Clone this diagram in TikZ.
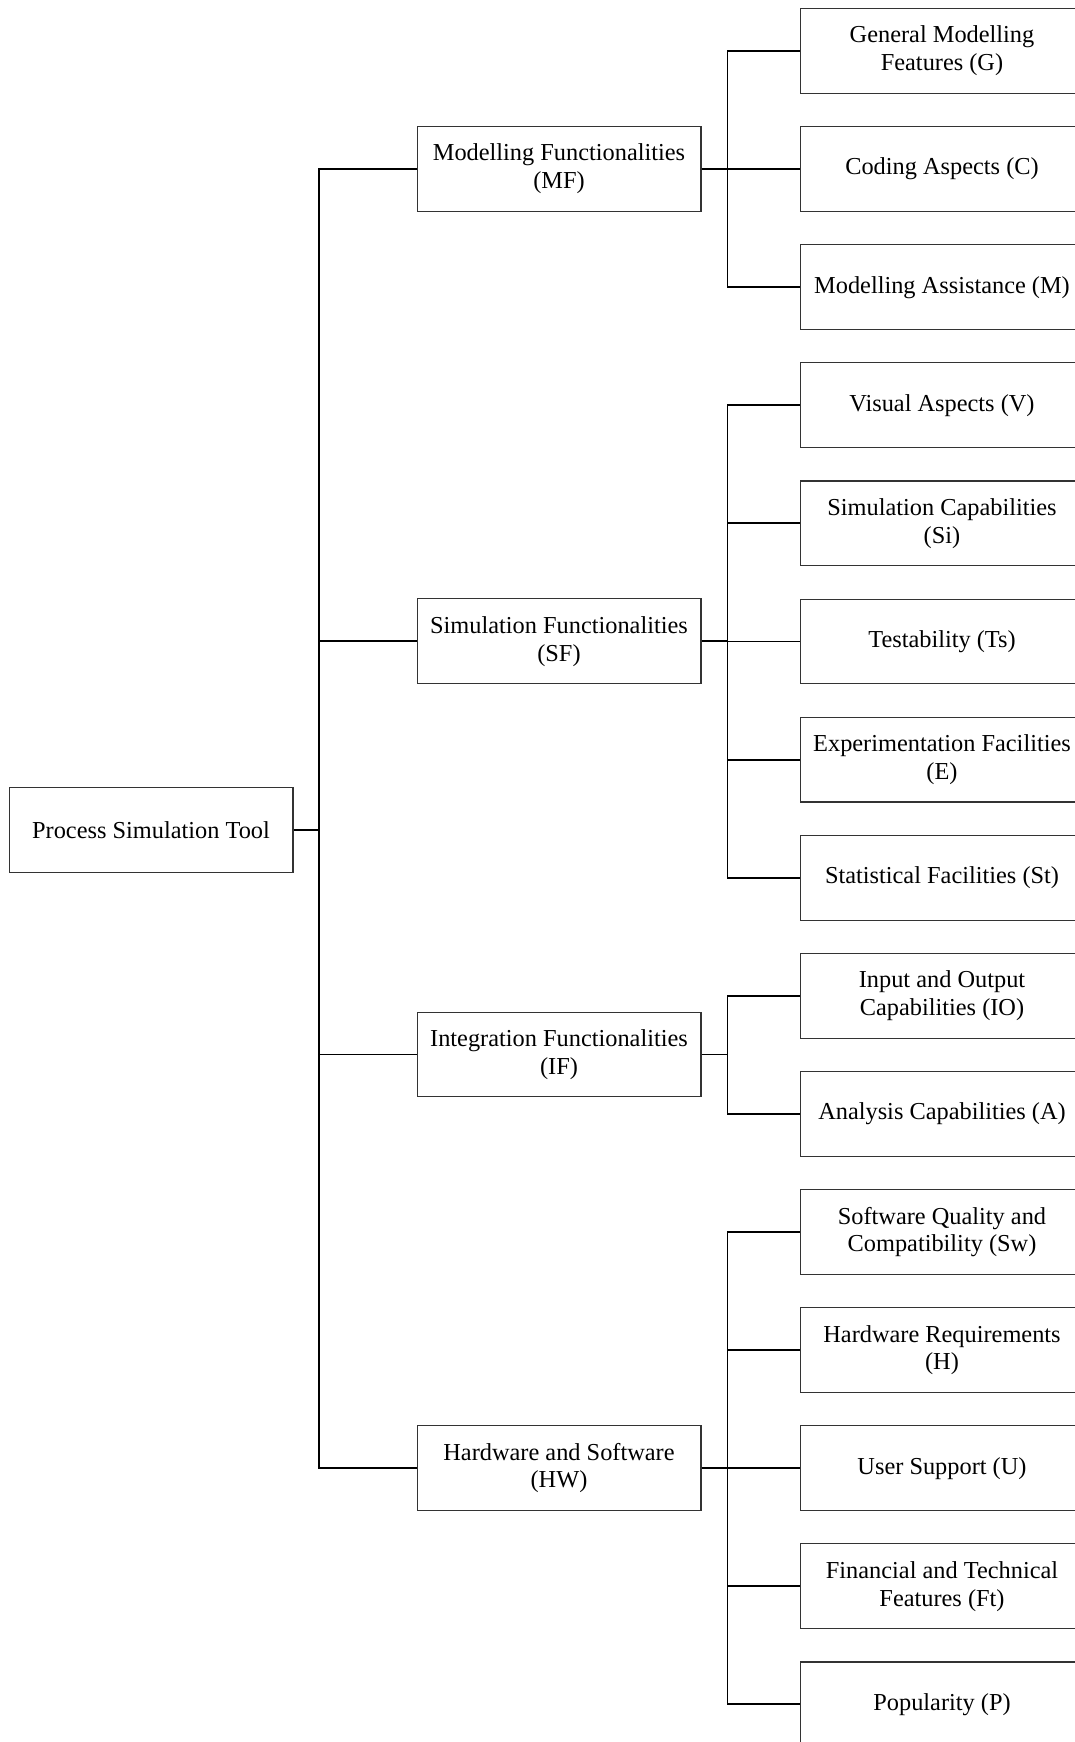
\documentclass[tikz,border=0pt]{standalone}
\usepackage{fontspec}
\setmainfont{Liberation Serif}
\usepackage{tikz}
\usetikzlibrary{positioning}
\tikzstyle{box}=[draw=black!80,line width=0.5pt,minimum width=130.6pt,minimum height=39pt,align=center,inner sep=1pt,font=\fontsize{11.2}{12.8}\selectfont]
\tikzstyle{link}=[line width=0.9pt]

\begin{document}
\begin{tikzpicture}[x=0.46pt,y=-0.46pt]
\useasboundingbox (0,0) rectangle (1075,1742);
% root and main groups
\node [box] (pst) at (151,830) {Process Simulation Tool};
\node [box] (mf) at (559,169) {Modelling Functionalities\\(MF)};
\node [box] (sf) at (559,641.3) {Simulation Functionalities\\(SF)};
\node [box] (itf) at (559,1054.5) {Integration Functionalities\\(IF)};
\node [box] (hw) at (559,1468) {Hardware and Software\\(HW)};
% criteria
\foreach \name/\txt [count=\i from 0] in {
    g/{General Modelling\\Features (G)},
    c/{Coding Aspects (C)},
    m/{Modelling Assistance (M)},
    v/{Visual Aspects (V)},
    si/{Simulation Capabilities\\(Si)},
    ts/{Testability (Ts)},
    e/{Experimentation Facilities\\(E)},
    st/{Statistical Facilities (St)},
    io/{Input and Output\\Capabilities (IO)},
    a/{Analysis Capabilities (A)},
    sw/{Software Quality and\\Compatibility (Sw)},
    h/{Hardware Requirements\\(H)},
    u/{User Support (U)},
    ft/{Financial and Technical\\Features (Ft)},
    p/{Popularity (P)}}
  \node [box] (\name) at (942,{51+118.1*\i}) {\txt};

\coordinate (j0) at (319,830);
\draw [link] (pst) -- (j0);
\foreach \n in {mf,sf,itf,hw}
  \draw [link] (j0) |- (\n);

\path (mf.east) ++(26,0) coordinate (jmf);
\path (sf.east) ++(26,0) coordinate (jsf);
\path (itf.east) ++(26,0) coordinate (jitf);
\path (hw.east) ++(26,0) coordinate (jhw);
\draw [link] (mf) -- (jmf);
\draw [link] (sf) -- (jsf);
\draw [link] (itf) -- (jitf);
\draw [link] (hw) -- (jhw);
\foreach \n in {g,c,m} \draw [link] (jmf) |- (\n);
\foreach \n in {v,si,ts,e,st} \draw [link] (jsf) |- (\n);
\foreach \n in {io,a} \draw [link] (jitf) |- (\n);
\foreach \n in {sw,h,u,ft,p} \draw [link] (jhw) |- (\n);
\end{tikzpicture}
\end{document}
